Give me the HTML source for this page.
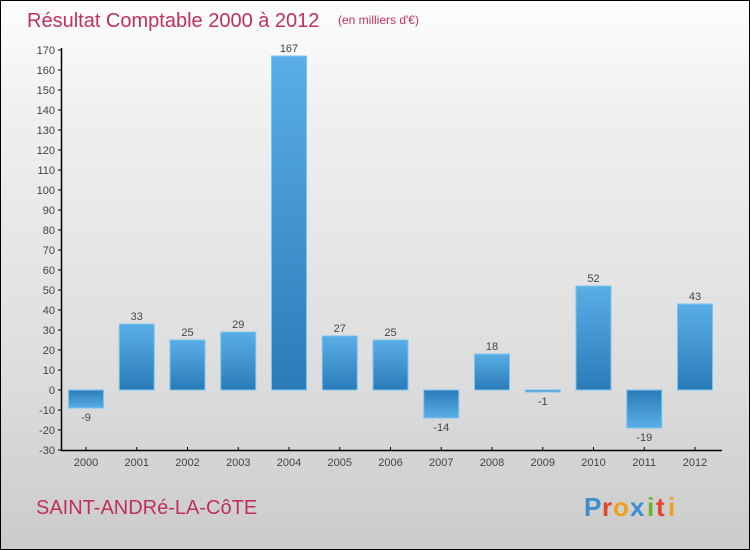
<!DOCTYPE html>
<html><head><meta charset="utf-8"><style>
html,body{margin:0;padding:0}
body{width:750px;height:550px;overflow:hidden;font-family:"Liberation Sans",sans-serif}
#wrap{position:absolute;left:0;top:0;width:748px;height:548px;border:1px solid #000;background:linear-gradient(#fdfdfd,#f0f0f0 20%,#dcdcdc 70%,#cbcbcb)}
</style></head><body>
<div id="wrap">
<svg id="chart" width="750" height="550" style="position:absolute;left:-1px;top:-1px">
<defs>
<linearGradient id="gp" x1="0" y1="0" x2="0" y2="1"><stop offset="0" stop-color="#5aaee6"/><stop offset="1" stop-color="#2a7cb8"/></linearGradient>
<linearGradient id="gn" x1="0" y1="0" x2="0" y2="1"><stop offset="0" stop-color="#2a7cb8"/><stop offset="1" stop-color="#5aaee6"/></linearGradient>
</defs>
<text x="27" y="27" font-size="20" fill="#c0305a">Résultat Comptable 2000 à 2012</text>
<text x="338" y="24" font-size="12" fill="#c0305a">(en milliers d'€)</text>
<text x="36" y="514" font-size="20" fill="#c0305a">SAINT-ANDRé-LA-CôTE</text>
<g font-size="26" font-weight="bold">
<text x="584" y="516" fill="#3a8fd0">P</text><text x="602" y="516" fill="#e0462c">r</text><text x="613" y="516" fill="#f0a020">o</text><text x="630" y="516" fill="#3a8fd0">x</text><text x="647" y="516" fill="#6ab42c">i</text><text x="656" y="516" fill="#e0462c">t</text><text x="668" y="516" fill="#f0a020">i</text>
</g>
</svg>
</div>
<script>
const years=["2000","2001","2002","2003","2004","2005","2006","2007","2008","2009","2010","2011","2012"];
const values=[-9,33,25,29,167,27,25,-14,18,-1,52,-19,43];
const yTicks=[-30,-20,-10,0,10,20,30,40,50,60,70,80,90,100,110,120,130,140,150,160,170];
const svg=document.getElementById('chart');
const NS='http://www.w3.org/2000/svg';
const y=v=>390-v*2;
const x=i=>86+i*50.75;
function mk(t,a){const e=document.createElementNS(NS,t);for(const k in a)e.setAttribute(k,a[k]);svg.appendChild(e);return e;}
const ax=mk('path',{d:'M61.5 48 V450.5 H722',stroke:'#000','stroke-width':1.5,fill:'none'});


yTicks.forEach(v=>{
 const t=mk('line',{x1:58,x2:62,y1:y(v),y2:y(v),stroke:'#000'});
 
 
 const l=mk('text',{x:55,y:y(v)+4,'font-size':11,fill:'#444','text-anchor':'end'});
 l.textContent=v<0?'-'+Math.abs(v):v;
 
 
});
years.forEach((yr,i)=>{
 const v=values[i];
 const t=mk('line',{x1:x(i),x2:x(i),y1:447,y2:451,stroke:'#000'});
 
 
 const l=mk('text',{x:x(i),y:466,'font-size':11,fill:'#444','text-anchor':'middle'});
 l.textContent=yr;
 
 
 const top=Math.min(y(v),y(0)),h=Math.abs(y(v)-y(0));
 const b=mk('rect',{x:x(i)-17.5,y:top,width:35,height:Math.max(h,1),fill:v>=0?'url(#gp)':'url(#gn)',stroke:'#7cc4f0','stroke-width':1});
 
 
 const vl=mk('text',{x:x(i),y:v>=0?y(v)-4:y(v)+13,'font-size':11,fill:'#444','text-anchor':'middle'});
 vl.textContent=v;
 
 
});
</script>
</body></html>
